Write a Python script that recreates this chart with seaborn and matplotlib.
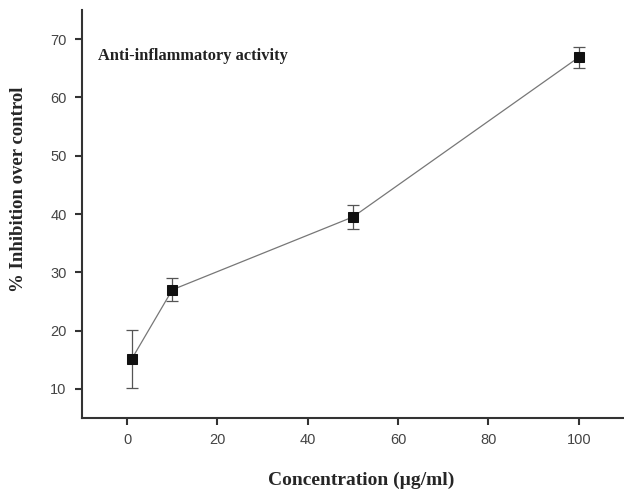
import matplotlib
matplotlib.use("Agg")
import matplotlib.pyplot as plt
import seaborn as sns
import pandas as pd

concentration = [1, 10, 50, 100]
inhibition = [15.1, 27.0, 39.5, 66.9]
error = [5.0, 2.0, 2.1, 1.8]
x_ticks = [0, 20, 40, 60, 80, 100]
y_ticks = [10, 20, 30, 40, 50, 60, 70]

sns.set_style("ticks")
plt.rcParams['font.family'] = ['Liberation Sans', 'DejaVu Sans']

df = pd.DataFrame({"conc": concentration, "inh": inhibition, "err": error})

fig = plt.figure(figsize=(6.24, 4.91), dpi=100)
ax = fig.add_axes([0.1314, 0.1487, 0.8686, 0.8309])

ax.errorbar(df["conc"], df["inh"], yerr=df["err"], fmt="none", ecolor="#555555",
            elinewidth=0.9, capsize=4, capthick=0.9, zorder=2)
sns.lineplot(data=df, x="conc", y="inh", ax=ax, color="#777777", linewidth=0.9,
             marker="s", markersize=7, markerfacecolor="#111111",
             markeredgecolor="#111111", zorder=3)

ax.set_xlim(-10, 110)
ax.set_ylim(5, 75)
ax.set_xticks(x_ticks)
ax.set_yticks(y_ticks)
ax.tick_params(axis="both", direction="out", length=5, width=1.5, colors="#333333",
               labelsize=10.5, labelcolor="#444444", pad=6)
sns.despine(ax=ax)
for s in ["left", "bottom"]:
    ax.spines[s].set_linewidth(1.5)
    ax.spines[s].set_color("#333333")

serif = ['Liberation Serif', 'DejaVu Serif']
ax.set_xlabel("Concentration (µg/ml)", family=serif, fontweight="bold", fontsize=14)
ax.set_ylabel("% Inhibition over control", family=serif, fontweight="bold", fontsize=13.5)
ax.xaxis.label.set_va("center")
ax.yaxis.label.set_va("center")
ax.yaxis.label.set_ha("center")
ax.xaxis.set_label_coords(0.515, -0.152)
ax.yaxis.set_label_coords(-0.118, 0.561)
ax.text(0.0295, 0.887, "Anti-inflammatory activity", transform=ax.transAxes,
        family=serif, fontweight="bold", fontsize=11.8, color="#222222", va="center")

fig.savefig("out.png", dpi=100)
